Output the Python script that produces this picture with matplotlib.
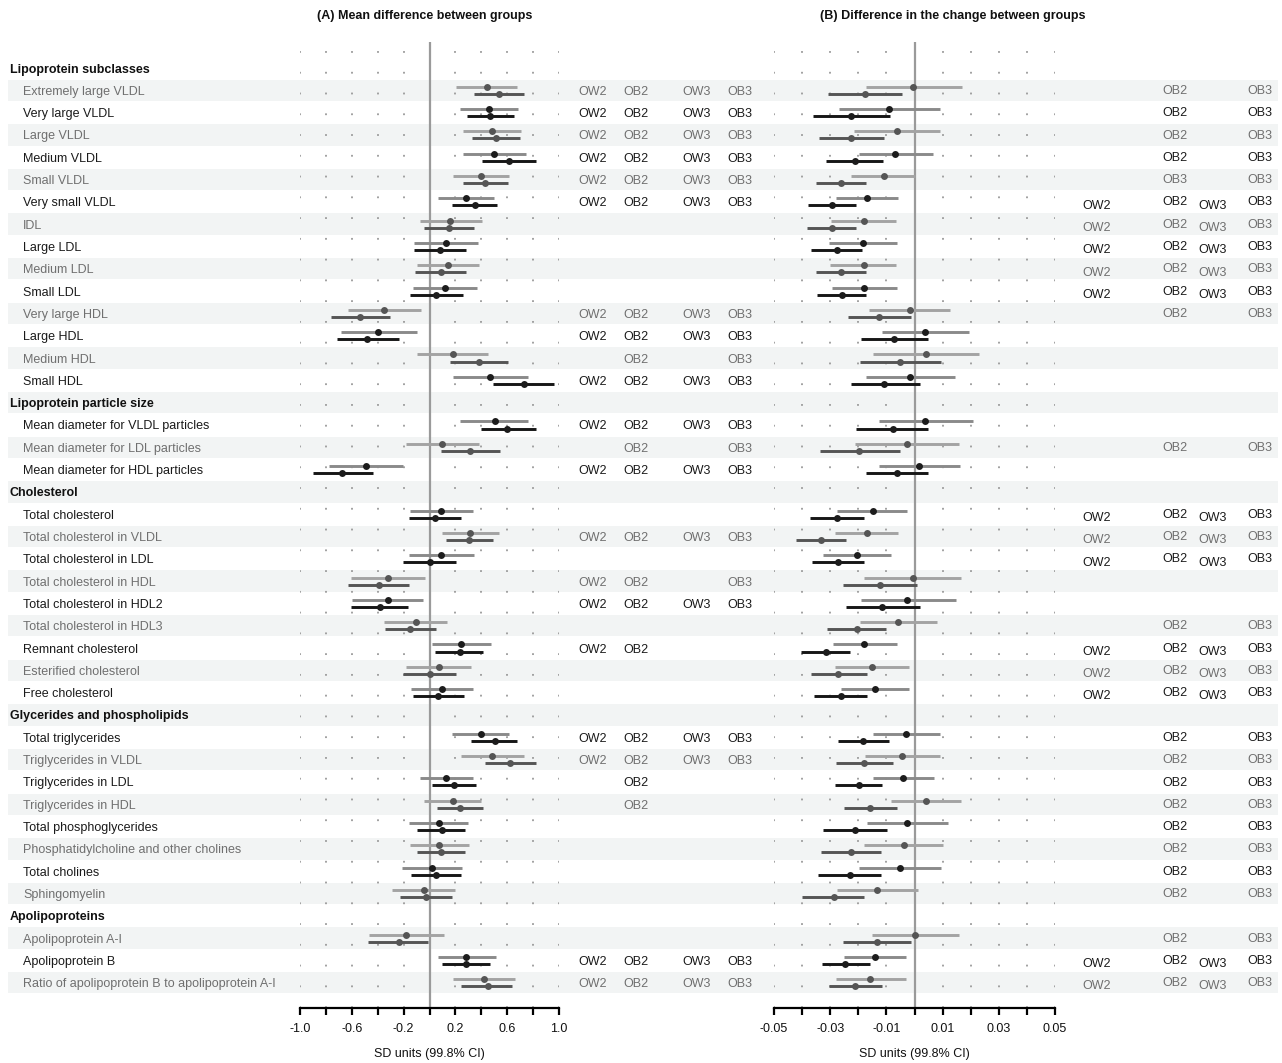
import numpy as np
import matplotlib.pyplot as plt

plt.rcParams['font.family'] = ['Liberation Sans', 'DejaVu Sans']

sections = ["Lipoprotein subclasses", "Lipoprotein particle size", "Cholesterol",
            "Glycerides and phospholipids", "Apolipoproteins"]
measures = [
    ["Extremely large VLDL", "Very large VLDL", "Large VLDL", "Medium VLDL",
     "Small VLDL", "Very small VLDL", "IDL", "Large LDL", "Medium LDL",
     "Small LDL", "Very large HDL", "Large HDL", "Medium HDL", "Small HDL"],
    ["Mean diameter for VLDL particles", "Mean diameter for LDL particles",
     "Mean diameter for HDL particles"],
    ["Total cholesterol", "Total cholesterol in VLDL", "Total cholesterol in LDL",
     "Total cholesterol in HDL", "Total cholesterol in HDL2",
     "Total cholesterol in HDL3", "Remnant cholesterol", "Esterified cholesterol",
     "Free cholesterol"],
    ["Total triglycerides", "Triglycerides in VLDL", "Triglycerides in LDL",
     "Triglycerides in HDL", "Total phosphoglycerides",
     "Phosphatidylcholine and other cholines", "Total cholines", "Sphingomyelin"],
    ["Apolipoprotein A-I", "Apolipoprotein B",
     "Ratio of apolipoprotein B to apolipoprotein A-I"],
]

# (A) mean difference, first comparison (upper line)
a1_est = [0.443, 0.456, 0.481, 0.497, 0.396, 0.283, 0.162, 0.131, 0.142, 0.121,
          -0.350, -0.394, 0.178, 0.471,
          0.502, 0.100, -0.494,
          0.090, 0.314, 0.090, -0.322, -0.322, -0.108, 0.247, 0.072, 0.095,
          0.394, 0.486, 0.131, 0.178, 0.072, 0.075, 0.021, -0.046,
          -0.180, 0.283, 0.417]
a1_lo = [0.206, 0.232, 0.257, 0.257, 0.180, 0.069, -0.077, -0.116, -0.100, -0.124,
         -0.631, -0.687, -0.098, 0.185,
         0.239, -0.178, -0.777,
         -0.154, 0.093, -0.162, -0.610, -0.595, -0.353, 0.023, -0.178, -0.139,
         0.170, 0.245, -0.077, -0.041, -0.162, -0.154, -0.216, -0.293,
         -0.470, 0.062, 0.178]
a1_hi = [0.677, 0.685, 0.708, 0.749, 0.613, 0.499, 0.402, 0.378, 0.386, 0.363,
         -0.069, -0.095, 0.453, 0.762,
         0.762, 0.384, -0.201,
         0.337, 0.538, 0.345, -0.036, -0.049, 0.136, 0.476, 0.322, 0.337,
         0.615, 0.728, 0.337, 0.399, 0.299, 0.306, 0.252, 0.198,
         0.113, 0.515, 0.659]
# (A) mean difference, second comparison (lower line)
a2_est = [0.535, 0.471, 0.512, 0.615, 0.432, 0.350, 0.152, 0.082, 0.085, 0.054,
          -0.535, -0.484, 0.386, 0.728,
          0.602, 0.314, -0.672,
          0.044, 0.306, 0.000, -0.391, -0.386, -0.149, 0.234, 0.005, 0.069,
          0.502, 0.618, 0.190, 0.239, 0.093, 0.088, 0.049, -0.026,
          -0.234, 0.283, 0.448]
a2_lo = [0.347, 0.286, 0.327, 0.409, 0.257, 0.170, -0.044, -0.116, -0.111, -0.147,
         -0.764, -0.718, 0.162, 0.494,
         0.394, 0.088, -0.903,
         -0.162, 0.124, -0.208, -0.626, -0.610, -0.347, 0.046, -0.201, -0.124,
         0.317, 0.425, 0.023, 0.057, -0.100, -0.100, -0.139, -0.229,
         -0.473, 0.100, 0.247]
a2_hi = [0.728, 0.656, 0.695, 0.819, 0.607, 0.525, 0.345, 0.283, 0.283, 0.255,
         -0.304, -0.239, 0.610, 0.965,
         0.819, 0.541, -0.435,
         0.247, 0.489, 0.206, -0.157, -0.165, 0.051, 0.414, 0.208, 0.268,
         0.677, 0.819, 0.360, 0.414, 0.275, 0.273, 0.245, 0.173,
         -0.008, 0.468, 0.638]

# (B) difference in change, first comparison (upper line)
b1_est = [-0.0004, -0.0092, -0.0064, -0.0070, -0.0109, -0.0170, -0.0180, -0.0185,
          -0.0181, -0.0178, -0.0017, 0.0038, 0.0041, -0.0017,
          0.0038, -0.0028, 0.0017,
          -0.0149, -0.0170, -0.0204, -0.0007, -0.0025, -0.0058, -0.0178, -0.0153, -0.0140,
          -0.0031, -0.0043, -0.0040, 0.0041, -0.0025, -0.0038, -0.0053, -0.0133,
          0.0002, -0.0140, -0.0157]
b1_lo = [-0.0173, -0.0270, -0.0214, -0.0198, -0.0227, -0.0279, -0.0296, -0.0305,
         -0.0301, -0.0293, -0.0162, -0.0117, -0.0149, -0.0174,
         -0.0128, -0.0213, -0.0128,
         -0.0277, -0.0284, -0.0327, -0.0181, -0.0192, -0.0195, -0.0291, -0.0284, -0.0263,
         -0.0149, -0.0176, -0.0149, -0.0082, -0.0170, -0.0178, -0.0199, -0.0277,
         -0.0153, -0.0252, -0.0280]
b1_hi = [0.0169, 0.0089, 0.0089, 0.0067, 0.0000, -0.0058, -0.0065, -0.0064,
         -0.0065, -0.0062, 0.0127, 0.0195, 0.0231, 0.0144,
         0.0208, 0.0160, 0.0163,
         -0.0026, -0.0057, -0.0083, 0.0167, 0.0146, 0.0080, -0.0064, -0.0021, -0.0018,
         0.0092, 0.0092, 0.0071, 0.0166, 0.0120, 0.0102, 0.0095, 0.0013,
         0.0160, -0.0032, -0.0032]
# (B) difference in change, second comparison (lower line)
b2_est = [-0.0175, -0.0225, -0.0225, -0.0211, -0.0263, -0.0293, -0.0293, -0.0277,
          -0.0263, -0.0259, -0.0125, -0.0073, -0.0050, -0.0107,
          -0.0078, -0.0196, -0.0064,
          -0.0275, -0.0334, -0.0271, -0.0124, -0.0114, -0.0206, -0.0316, -0.0271, -0.0263,
          -0.0182, -0.0178, -0.0199, -0.0157, -0.0211, -0.0227, -0.0230, -0.0288,
          -0.0135, -0.0246, -0.0211]
b2_lo = [-0.0308, -0.0362, -0.0341, -0.0316, -0.0351, -0.0380, -0.0382, -0.0369,
         -0.0351, -0.0348, -0.0236, -0.0192, -0.0195, -0.0227,
         -0.0209, -0.0338, -0.0174,
         -0.0373, -0.0422, -0.0366, -0.0256, -0.0245, -0.0311, -0.0405, -0.0369, -0.0359,
         -0.0273, -0.0280, -0.0284, -0.0252, -0.0327, -0.0334, -0.0344, -0.0401,
         -0.0256, -0.0330, -0.0305]
b2_hi = [-0.0044, -0.0086, -0.0108, -0.0111, -0.0172, -0.0209, -0.0207, -0.0186,
         -0.0172, -0.0172, -0.0012, 0.0049, 0.0096, 0.0018,
         0.0049, -0.0051, 0.0049,
         -0.0178, -0.0245, -0.0178, 0.0009, 0.0018, -0.0102, -0.0231, -0.0168, -0.0170,
         -0.0089, -0.0076, -0.0114, -0.0064, -0.0099, -0.0118, -0.0118, -0.0178,
         -0.0014, -0.0160, -0.0115]

# group flags shown to the right of each panel ('.' = blank)
flags_a = ["OW2 OB2 OW3 OB3"] * 6 + [". . . ."] * 4 + \
          ["OW2 OB2 OW3 OB3", "OW2 OB2 OW3 OB3", ". OB2 . OB3", "OW2 OB2 OW3 OB3"] + \
          ["OW2 OB2 OW3 OB3", ". OB2 . OB3", "OW2 OB2 OW3 OB3"] + \
          [". . . .", "OW2 OB2 OW3 OB3", ". . . .", "OW2 OB2 . OB3", "OW2 OB2 OW3 OB3",
           ". . . .", "OW2 OB2 . .", ". . . .", ". . . ."] + \
          ["OW2 OB2 OW3 OB3", "OW2 OB2 OW3 OB3", ". OB2 . .", ". OB2 . .",
           ". . . .", ". . . .", ". . . .", ". . . ."] + \
          [". . . .", "OW2 OB2 OW3 OB3", "OW2 OB2 OW3 OB3"]
flags_b = [". OB2 . OB3"] * 4 + [". OB3 . OB3"] + ["OW2 OB2 OW3 OB3"] * 5 + \
          [". OB2 . OB3", ". . . .", ". . . .", ". . . ."] + \
          [". . . .", ". OB2 . OB3", ". . . ."] + \
          ["OW2 OB2 OW3 OB3"] * 3 + [". . . .", ". . . .", ". OB2 . OB3"] + \
          ["OW2 OB2 OW3 OB3"] * 3 + \
          [". OB2 . OB3"] * 8 + \
          [". OB2 . OB3", "OW2 OB2 OW3 OB3", "OW2 OB2 OW3 OB3"]

# build the row layout: section headers followed by their measures
labels, is_header, item_rows = [], [], []
for sec, items in zip(sections, measures):
    labels.append(sec)
    is_header.append(True)
    for m in items:
        item_rows.append(len(labels))
        labels.append(m)
        is_header.append(False)
n_rows = len(labels)

W, H = 1282, 1063
fig = plt.figure(figsize=(W / 100, H / 100), dpi=100)

y_top_px, y_bot_px, row0_px, row_h = 42, 1008, 68, 22.31
ylim = ((y_bot_px - row0_px) / row_h, (y_top_px - row0_px) / row_h)
ax_bottom = (H - y_bot_px) / H
ax_height = (y_bot_px - y_top_px) / H

# background axis in pixel units for bands and text columns
bg = fig.add_axes([0, ax_bottom, 1, ax_height], zorder=0)
bg.set_xlim(0, W)
bg.set_ylim(*ylim)
bg.axis('off')

GRAY_TXT, BLACK_TXT = '#6f6f6f', '#1a1a1a'
for r, (lab, hdr) in enumerate(zip(labels, is_header)):
    shaded = r % 2 == 1
    if shaded:
        bg.fill_between([8, 1278], r - 0.48, r + 0.48, color='#f2f4f4', lw=0)
    if hdr:
        bg.text(10, r, lab, fontsize=9, fontweight='bold', color='#111111',
                va='center_baseline', ha='left')
    else:
        bg.text(23, r, lab, fontsize=9, color=GRAY_TXT if shaded else BLACK_TXT,
                va='center_baseline', ha='left')

cols_a = [578, 623, 682, 727]
cols_b = [1082, 1162, 1198, 1247]
for k, r in enumerate(item_rows):
    c = GRAY_TXT if r % 2 == 1 else BLACK_TXT
    for tok, x in zip(flags_a[k].split(), cols_a):
        if tok != '.':
            bg.text(x, r, tok, fontsize=9, color=c, va='center_baseline', ha='left')
    for tok, x in zip(flags_b[k].split(), cols_b):
        if tok != '.':
            dy = 0.1 if tok.startswith('OW') else -0.04
            bg.text(x, r + dy, tok, fontsize=9, color=c, va='center_baseline', ha='left')


def forest(ax, est1, lo1, hi1, est2, lo2, hi2, lim, step, fmt):
    ax.set_facecolor('none')
    ax.set_xlim(-lim, lim)
    ax.set_ylim(*ylim)
    ticks = np.round(np.arange(-lim, lim + step / 2, step), 4)
    for t in ticks:
        if abs(t) > 1e-9:
            ax.axvline(t, color='#9a9a9a', lw=1.3, ls=(0, (1, 10.5)), zorder=1)
    ax.axvline(0, color='#9a9a9a', lw=1.6, zorder=2)
    off = 0.16
    for k, r in enumerate(item_rows):
        if r % 2 == 1:
            top_line, top_dot, bot_line, bot_dot = '#a3a3a3', '#555555', '#555555', '#555555'
        else:
            top_line, top_dot, bot_line, bot_dot = '#8a8a8a', '#1c1c1c', '#161616', '#1c1c1c'
        ax.hlines(r - off, lo1[k], hi1[k], color=top_line, lw=2.1, zorder=3)
        ax.plot(est1[k], r - off, 'o', color=top_dot, ms=5, mec='none', zorder=4)
        ax.hlines(r + off, lo2[k], hi2[k], color=bot_line, lw=2.1, zorder=3)
        ax.plot(est2[k], r + off, 'o', color=bot_dot, ms=5, mec='none', zorder=4)
    for s in ['top', 'right', 'left']:
        ax.spines[s].set_visible(False)
    ax.spines['bottom'].set_linewidth(1.6)
    ax.set_yticks([])
    ax.set_xticks(ticks)
    ax.set_xticklabels([fmt % t if i % 2 == 0 else '' for i, t in enumerate(ticks)],
                       fontsize=9, color='#111111')
    ax.tick_params(axis='x', length=5, width=1.6, pad=6)
    ax.set_xlabel('SD units (99.8% CI)', fontsize=9, labelpad=9, color='#111111')


axA = fig.add_axes([300 / W, ax_bottom, 259 / W, ax_height], zorder=1)
forest(axA, a1_est, a1_lo, a1_hi, a2_est, a2_lo, a2_hi, 1.0, 0.2, '%.1f')
axB = fig.add_axes([774 / W, ax_bottom, 281 / W, ax_height], zorder=1)
forest(axB, b1_est, b1_lo, b1_hi, b2_est, b2_lo, b2_hi, 0.05, 0.01, '%.2f')

fig.text(425 / W, 1 - 16 / H, '(A) Mean difference between groups', fontsize=9,
         fontweight='bold', ha='center', va='center', color='#111111')
fig.text(953 / W, 1 - 16 / H, '(B) Difference in the change between groups', fontsize=9,
         fontweight='bold', ha='center', va='center', color='#111111')

fig.savefig('out.png', dpi=100)
